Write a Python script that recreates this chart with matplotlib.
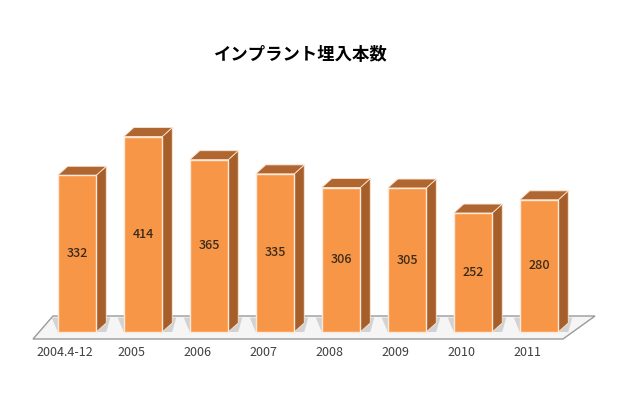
"""
Implant count bar chart with an Excel-style 3D look.
"""
import numpy as np
import matplotlib
matplotlib.use('Agg')
import matplotlib.pyplot as plt
from matplotlib.patches import Polygon

plt.rcParams['font.family'] = ['Noto Sans CJK JP', 'DejaVu Sans']

categories = ['2004.4-12', '2005', '2006', '2007', '2008', '2009', '2010', '2011']
counts = [332, 414, 365, 335, 306, 305, 252, 280]
title = 'インプラント埋入本数'

# pixel geometry of the reference (640x393)
W, H = 640, 393
px_per_cat = 66.0
px_per_unit = 0.472
x0_px = 77.0          # centre of first bar front, px from left
y0_px = 61.0          # value 0, px from bottom

fig = plt.figure(figsize=(6.4, 3.93), dpi=100)
ax = fig.add_axes([0, 0, 1, 1])
ax.set_xlim(-x0_px / px_per_cat, (W - x0_px) / px_per_cat)
ax.set_ylim(-y0_px / px_per_unit, (H - y0_px) / px_per_unit)
ax.axis('off')

def px(xp, yp_top):
    # convert pixel (from top-left) to data coords
    return ((xp - x0_px) / px_per_cat, (H - yp_top - y0_px) / px_per_unit)

# floor
floor = [px(33, 339), px(563, 339), px(595, 316), px(53, 316)]
ax.add_patch(Polygon(floor, closed=True, facecolor='#f5f5f5', edgecolor='#9a9a9a',
                     linewidth=1.0, zorder=1))

x = np.arange(len(categories))
w = 38.5 / px_per_cat
dx = 10 / px_per_cat
dy = 9 / px_per_unit

front = '#F79646'
side = '#A65F2A'
top = '#B06630'

for i, v in enumerate(counts):
    xl, xr = x[i] - w / 2, x[i] + w / 2
    # shadow on floor, towards the back
    ax.add_patch(Polygon([(xl, 0), (xl - dx * 0.6, dy * 1.6), (xr + dx * 1.4, dy * 1.6),
                          (xr + dx, 0)], closed=True,
                         facecolor='#d2d2d2', edgecolor='none', zorder=1.5))
    ax.add_patch(Polygon([(xr, 0), (xr + dx, dy), (xr + dx, v + dy), (xr, v)], closed=True,
                         facecolor=side, edgecolor='#FCE4D0', linewidth=0.6, zorder=2))
    ax.add_patch(Polygon([(xl, v), (xl + dx, v + dy), (xr + dx, v + dy), (xr, v)], closed=True,
                         facecolor=top, edgecolor='#FCE4D0', linewidth=0.6, zorder=2))

ax.bar(x, counts, width=w, color=front, edgecolor='#FDE9D9', linewidth=1.0, zorder=3)

for i, v in enumerate(counts):
    ax.text(x[i], v / 2, str(v), ha='center', va='center', fontsize=9,
            color='#3a2a1a', fontweight='medium', zorder=4)

label_y = px(0, 352)[1]
for i, c in enumerate(categories):
    ax.text(x[i] - 12 / px_per_cat, label_y, c, ha='center', va='center',
            fontsize=9, color='#404040')

tx, ty = px(301, 55)
ax.text(tx, ty, title, ha='center', va='center', fontsize=12.5, fontweight='bold',
        color='black')

fig.savefig('out.png', dpi=100, facecolor='white')
